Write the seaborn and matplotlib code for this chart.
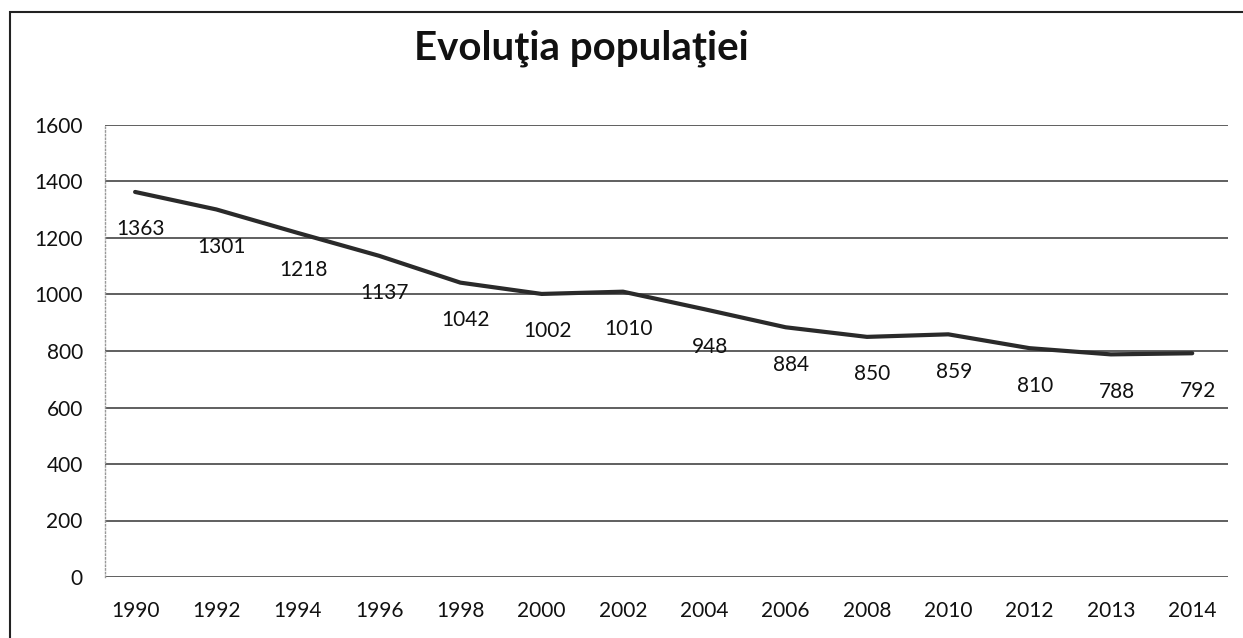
import pandas as pd
import matplotlib.pyplot as plt
import seaborn as sns
from matplotlib.patches import Rectangle

years = ['1990', '1992', '1994', '1996', '1998', '2000', '2002',
         '2004', '2006', '2008', '2010', '2012', '2013', '2014']
population = [1363, 1301, 1218, 1137, 1042, 1002, 1010,
              948, 884, 850, 859, 810, 788, 792]
yticks = [0, 200, 400, 600, 800, 1000, 1200, 1400, 1600]

df = pd.DataFrame({'pos': range(len(years)), 'an': years, 'populatie': population})

sns.set_style('white')
plt.rcParams['font.family'] = ['Lato', 'DejaVu Sans']

fig = plt.figure(figsize=(12.43, 6.38), dpi=100)
ax = fig.add_axes([105 / 1243, 61 / 638, 1123 / 1243, 452 / 638])

for v in yticks:
    ax.axhline(v, color='#444444', lw=1.2, zorder=1)

sns.lineplot(data=df, x='pos', y='populatie', color='#2a2a2a', lw=3.0, ax=ax, zorder=3)

# etichete de date sub fiecare punct
for x, v in zip(df['pos'], df['populatie']):
    ax.annotate(str(v), (x, v), xytext=(4, -27), textcoords='offset points',
                ha='center', va='center', fontsize=15, color='#111111')

ax.set_xlim(-0.37, 13.44)
ax.set_ylim(0, 1600)
ax.set_xticks(df['pos'])
ax.set_xticklabels(years)
ax.set_yticks(yticks)
ax.tick_params(axis='both', length=0, labelsize=15, colors='#111111')
ax.tick_params(axis='y', pad=16)
ax.tick_params(axis='x', pad=17)
ax.set_xlabel('')
ax.set_ylabel('')
for s in ['top', 'right', 'bottom']:
    ax.spines[s].set_visible(False)
ax.spines['left'].set_color('#999999')
ax.spines['left'].set_linestyle(':')
ax.spines['left'].set_linewidth(1)

fig.text(581 / 1243, 1 - 48 / 638, 'Evoluţia populaţiei', ha='center', va='center',
         fontsize=29, fontweight='bold', color='#111111')

fig.patches.append(Rectangle((10 / 1243, -0.05), 1.2, 1 - 12 / 638 + 0.05,
                             transform=fig.transFigure, fill=False,
                             edgecolor='#222222', lw=1.5))

plt.savefig('out.png', dpi=100)
